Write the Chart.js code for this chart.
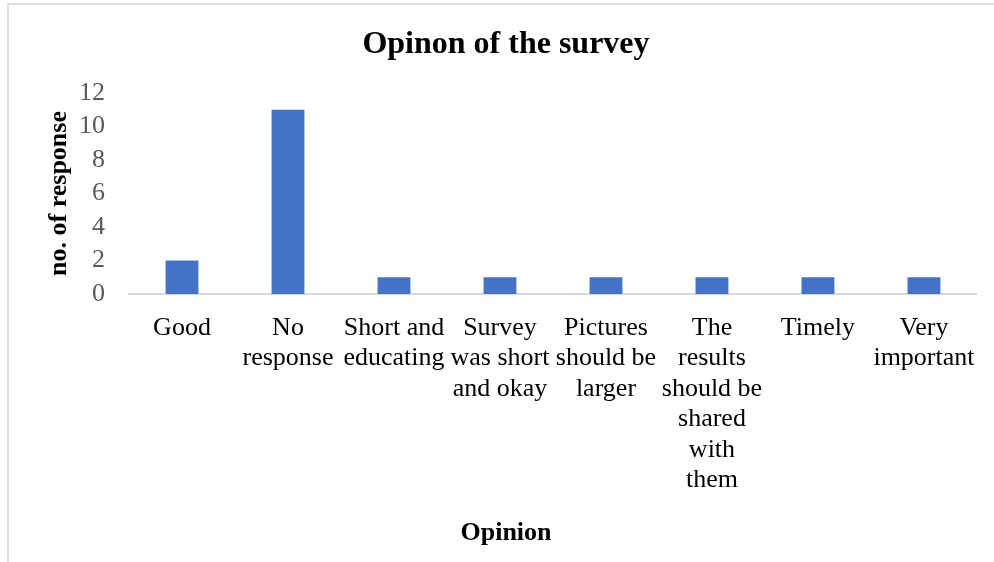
<!DOCTYPE html>
<html>
<head>
<meta charset="utf-8">
<script src="https://cdn.jsdelivr.net/npm/chart.js@4.4.1/dist/chart.umd.min.js"></script>
<style>
  body { margin: 0; background: #fff; }
  .frame {
    position: absolute; left: 7px; top: 3px; width: 1100px; height: 700px;
    border-left: 2px solid #e0e0e0; border-top: 2px solid #e0e0e0;
  }
  #chart { position: absolute; left: 0; top: 0; }
</style>
</head>
<body>
<div class="frame"></div>
<canvas id="chart" width="994" height="562"></canvas>
<script>
// chart data
const categories = [
  ["Good"],
  ["No", "response"],
  ["Short and", "educating"],
  ["Survey", "was short", "and okay"],
  ["Pictures", "should be", "larger"],
  ["The", "results", "should be", "shared", "with", "them"],
  ["Timely"],
  ["Very", "important"],
];
const responses = [2, 11, 1, 1, 1, 1, 1, 1];
const yTicks = [0, 2, 4, 6, 8, 10, 12];

const serif = "'Liberation Serif', 'Times New Roman', serif";

new Chart(document.getElementById("chart"), {
  type: "bar",
  data: {
    labels: categories,
    datasets: [
      {
        label: "no. of response",
        data: responses,
        backgroundColor: "#4472C4",
        barPercentage: 0.31,
        categoryPercentage: 1,
      },
    ],
  },
  options: {
    responsive: false,
    animation: false,
    layout: { padding: { left: 34, right: 16, top: 0, bottom: 0 } },
    plugins: {
      legend: { display: false },
      tooltip: { enabled: false },
      title: {
        display: true,
        text: "Opinon of the survey",
        color: "#000",
        font: { family: serif, size: 32, weight: "bold", lineHeight: 1.2 },
        padding: { top: 25.8, bottom: 28.8 },
      },
      subtitle: {
        display: true,
        position: "bottom",
        text: "Opinion",
        color: "#000",
        font: { family: serif, size: 26, weight: "bold", lineHeight: 1.2 },
        padding: { top: 0, bottom: 13.4 },
      },
    },
    scales: {
      x: {
        grid: { display: false, drawTicks: false },
        border: { display: true, color: "#d9d9d9", width: 2 },
        ticks: {
          autoSkip: false,
          maxRotation: 0,
          minRotation: 0,
          padding: 18.5,
          color: "#000",
          font: { family: serif, size: 26, lineHeight: 1.173 },
        },
        afterFit: (scale) => { scale.height = 223.4; },
      },
      y: {
        min: 0,
        max: 12,
        grid: { display: false, drawTicks: false },
        border: { display: false },
        afterBuildTicks: (scale) => { scale.ticks = yTicks.map((v) => ({ value: v })); },
        ticks: {
          autoSkip: false,
          padding: 24,
          color: "#595959",
          font: { family: serif, size: 26 },
        },
        title: {
          display: true,
          text: "no. of response",
          color: "#000",
          font: { family: serif, size: 26, weight: "bold", lineHeight: 1.2 },
          padding: { top: 9.4, bottom: 0 },
        },
        afterFit: (scale) => { scale.width = 95; },
      },
    },
  },
});
</script>
</body>
</html>
